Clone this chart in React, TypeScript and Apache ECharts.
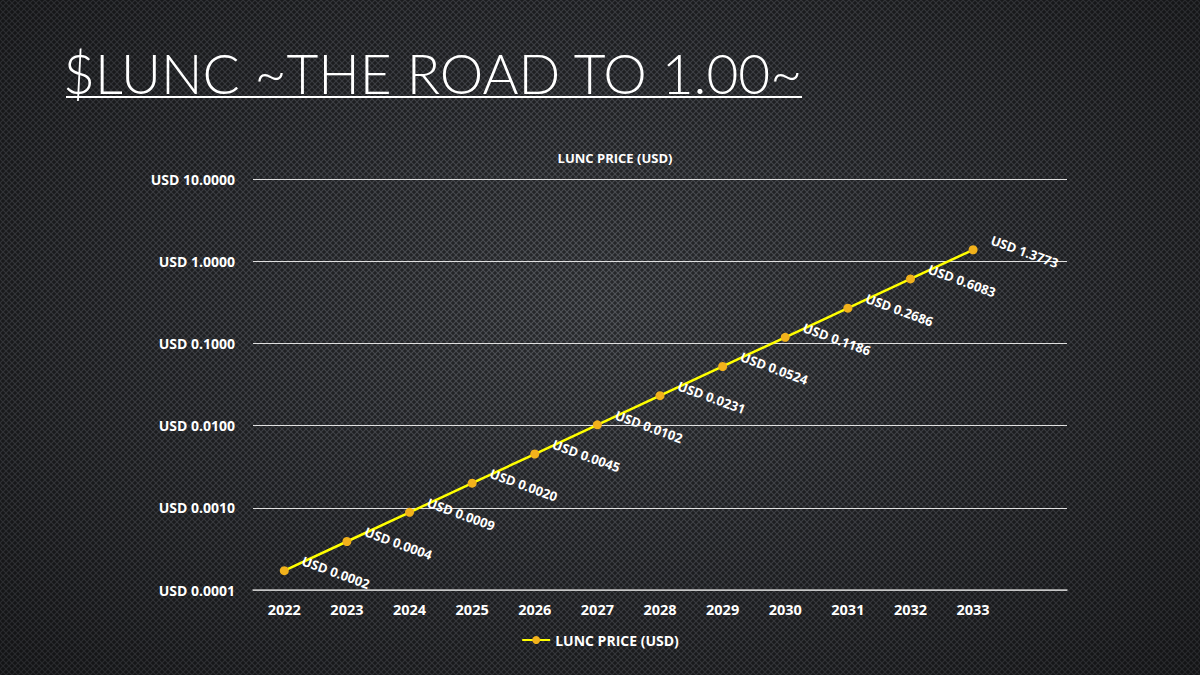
import React, { useEffect, useRef } from "react";
import * as echarts from "echarts";

const years = ["2022", "2023", "2024", "2025", "2026", "2027", "2028", "2029", "2030", "2031", "2032", "2033", ""];
const prices = [0.000172, 0.000389, 0.00088, 0.001993, 0.004512, 0.010217, 0.02313, 0.05238, 0.1186, 0.2686, 0.6083, 1.3773];
const seriesName = "LUNC PRICE (USD)";
const mainTitle = "$LUNC ~THE ROAD TO 1.00~";

const fmt = (v: number) => "USD " + Number(v).toFixed(4);

export default function App() {
  const ref = useRef<HTMLDivElement>(null);
  useEffect(() => {
    document.body.style.margin = "0";
    const chart = echarts.init(ref.current!, null, { renderer: "svg" });
    const labelFont = "'Open Sans', Lato, 'DejaVu Sans', sans-serif";
    chart.setOption({
      animation: false,
      backgroundColor: "transparent",
      title: [
        {
          text: mainTitle,
          left: 58,
          top: 40,
          textStyle: { color: "#ffffff", fontSize: 55, fontWeight: 300, fontFamily: "Lato, 'DejaVu Sans', sans-serif" },
        },
        {
          text: seriesName,
          left: 610,
          textAlign: "center",
          top: 146,
          textStyle: { color: "#ffffff", fontSize: 13, fontWeight: "bold", fontFamily: labelFont },
        },
      ],
      graphic: [
        { type: "line", shape: { x1: 66, y1: 97, x2: 802, y2: 97 }, style: { stroke: "#ffffff", lineWidth: 2 } },
      ],
      grid: { left: 253, right: 133, top: 179, bottom: 85 },
      legend: {
        bottom: 23,
        left: "center",
        data: [seriesName],
        itemWidth: 28,
        itemHeight: 10,
        itemGap: 6,
        textStyle: { color: "#ffffff", fontSize: 14, fontWeight: "bold", fontFamily: labelFont },
      },
      xAxis: {
        type: "category",
        data: years,
        boundaryGap: true,
        axisLine: { show: true, lineStyle: { color: "#bfbfbf", width: 1.5 } },
        axisTick: { show: false },
        axisLabel: { color: "#ffffff", fontSize: 14.5, fontWeight: "bold", fontFamily: labelFont, margin: 12 },
      },
      yAxis: {
        type: "log",
        logBase: 10,
        min: 0.0001,
        max: 10,
        axisLine: { show: false },
        axisTick: { show: false },
        splitLine: { show: true, lineStyle: { color: "#e0e0e0", width: 1 } },
        axisLabel: {
          color: "#ffffff",
          fontSize: 14,
          fontWeight: "bold",
          fontFamily: labelFont,
          margin: 18,
          formatter: (v: number) => fmt(v),
        },
      },
      series: [
        {
          name: seriesName,
          type: "line",
          data: prices,
          symbol: "circle",
          symbolSize: 9,
          lineStyle: { color: "#ffff00", width: 2.5 },
          itemStyle: { color: "#f2b21c" },
          label: {
            show: true,
            position: "right",
            distance: 10,
            offset: [0, -11],
            rotate: -20,
            color: "#ffffff",
            fontSize: 13,
            fontWeight: "bold",
            fontFamily: labelFont,
            formatter: (p: any) => fmt(p.value),
          },
        },
      ],
    });
    return () => chart.dispose();
  }, []);
  return (
    <div
      style={{
        position: "fixed",
        left: 0,
        top: 0,
        width: 1200,
        height: 675,
        backgroundColor: "#2e3034",
        backgroundImage:
          "radial-gradient(circle, rgba(0,0,0,0.5) 1.4px, transparent 2px), radial-gradient(circle, rgba(0,0,0,0.5) 1.4px, transparent 2px), radial-gradient(ellipse at 50% 45%, #505358 0%, #3c3e43 45%, #26272a 100%)",
        backgroundSize: "6px 6px, 6px 6px, 100% 100%",
        backgroundPosition: "0 0, 3px 3px, 0 0",
      }}
    >
      <div ref={ref} style={{ width: 1200, height: 675 }} />
    </div>
  );
}
